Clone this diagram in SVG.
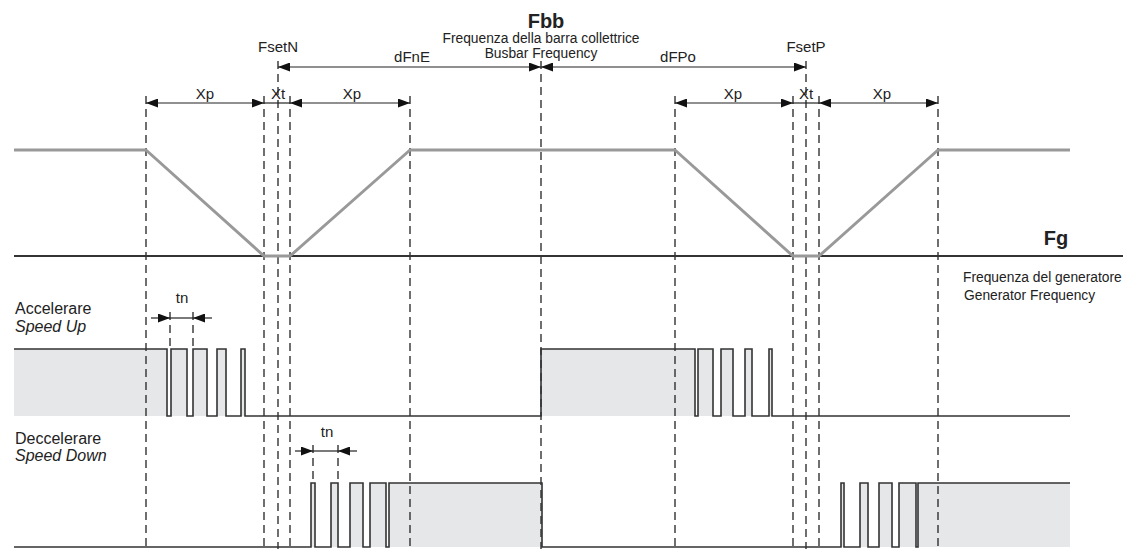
<svg xmlns="http://www.w3.org/2000/svg" width="1123" height="549" viewBox="0 0 1123 549">
<style>
text{font-family:"Liberation Sans",Arial,sans-serif;fill:#222}
.lbl{font-size:15px}
.sig-lbl{font-size:16px}
.sm{font-size:13.8px}
.big{font-size:20px;font-weight:bold}
.it{font-style:italic}
.c{text-anchor:middle}
.dash{stroke:#222;stroke-width:1.3;stroke-dasharray:8,5;fill:none}
.dim{stroke:#222;stroke-width:1.2;fill:none}
.sig{stroke:#333;stroke-width:1.6;fill:none}
.fill{fill:#e6e7e8;stroke:none}
</style>
<defs>
<marker id="ah" viewBox="0 0 12 9" refX="12" refY="4.5" markerWidth="12" markerHeight="9" markerUnits="userSpaceOnUse" orient="auto-start-reverse">
<path d="M0,0 L12,4.5 L0,9 Z" fill="#111"/>
</marker>
</defs>
<rect width="1123" height="549" fill="#fff"/>

<g id="signal-fills">
<path class="fill" d="M14,416 V349 H167 V416 H171 V349 H187 V416 H193 V349 H207 V416 H217 V349 H226 V416 H241 V349 H245 V416 H541 V349 H695 V416 H698 V349 H713 V416 H721 V349 H733 V416 H745 V349 H752 V416 H769 V349 H772 V416 Z"/>
<path class="fill" d="M311,547 V483 H315 V547 H331 V483 H338 V547 H350 V483 H363 V547 H370 V483 H386 V547 H389 V483 H542 V547 H841 V483 H844 V547 H860 V483 H868 V547 H879 V483 H892 V547 H899 V483 H916 V547 H918 V483 H1070 V547 Z"/>
</g>

<g id="guides">
<line class="dash" x1="146" y1="96" x2="146" y2="549"/>
<line class="dash" x1="264" y1="96" x2="264" y2="549"/>
<line class="dash" x1="278" y1="61" x2="278" y2="549"/>
<line class="dash" x1="290" y1="96" x2="290" y2="549"/>
<line class="dash" x1="410" y1="96" x2="410" y2="549"/>
<line class="dash" x1="541" y1="61" x2="541" y2="549"/>
<line class="dash" x1="675" y1="96" x2="675" y2="549"/>
<line class="dash" x1="793" y1="96" x2="793" y2="549"/>
<line class="dash" x1="806" y1="61" x2="806" y2="549"/>
<line class="dash" x1="819" y1="96" x2="819" y2="549"/>
<line class="dash" x1="938" y1="96" x2="938" y2="549"/>
<line class="dash" x1="170" y1="312" x2="170" y2="348"/>
<line class="dash" x1="193" y1="312" x2="193" y2="348"/>
<line class="dash" x1="313" y1="445" x2="313" y2="482"/>
<line class="dash" x1="338" y1="445" x2="338" y2="482"/>
</g>

<g id="frequency-curve">
<line x1="14" y1="256" x2="1123" y2="256" stroke="#333" stroke-width="2"/>
<polyline points="14,150 146,150 264,256 290,256 410,150 675,150 793,256 819,256 938,150 1070,150" fill="none" stroke="#999" stroke-width="3" stroke-linejoin="round"/>
</g>

<g id="connectors">
<line class="dim" x1="278" y1="67" x2="541" y2="67" marker-start="url(#ah)" marker-end="url(#ah)"/>
<line class="dim" x1="541" y1="67" x2="806" y2="67" marker-start="url(#ah)" marker-end="url(#ah)"/>
<line class="dim" x1="146" y1="103" x2="264" y2="103" marker-start="url(#ah)" marker-end="url(#ah)"/>
<line class="dim" x1="264" y1="103" x2="290" y2="103"/>
<line class="dim" x1="290" y1="103" x2="410" y2="103" marker-start="url(#ah)" marker-end="url(#ah)"/>
<line class="dim" x1="675" y1="103" x2="793" y2="103" marker-start="url(#ah)" marker-end="url(#ah)"/>
<line class="dim" x1="793" y1="103" x2="819" y2="103"/>
<line class="dim" x1="819" y1="103" x2="938" y2="103" marker-start="url(#ah)" marker-end="url(#ah)"/>
<line class="dim" x1="151" y1="318" x2="170" y2="318" marker-end="url(#ah)"/>
<line class="dim" x1="170" y1="318" x2="193" y2="318"/>
<line class="dim" x1="212" y1="318" x2="193" y2="318" marker-end="url(#ah)"/>
<line class="dim" x1="295" y1="451" x2="313" y2="451" marker-end="url(#ah)"/>
<line class="dim" x1="313" y1="451" x2="338" y2="451"/>
<line class="dim" x1="357" y1="451" x2="338" y2="451" marker-end="url(#ah)"/>
</g>

<g id="signals">
<path class="sig" d="M14,349 H167 V416 H171 V349 H187 V416 H193 V349 H207 V416 H217 V349 H226 V416 H241 V349 H245 V416 H541 V349 H695 V416 H698 V349 H713 V416 H721 V349 H733 V416 H745 V349 H752 V416 H769 V349 H772 V416 H1070"/>
<path class="sig" d="M14,547 H311 V483 H315 V547 H331 V483 H338 V547 H350 V483 H363 V547 H370 V483 H386 V547 H389 V483 H542 V547 H841 V483 H844 V547 H860 V483 H868 V547 H879 V483 H892 V547 H899 V483 H916 V547 H918 V483 H1070"/>
</g>

<g id="fbb-label">
<text class="big c" x="546" y="28">Fbb</text>
<text class="sm c" x="541" y="43">Frequenza della barra collettrice</text>
<text class="sm c" x="541" y="58">Busbar Frequency</text>
</g>
<g id="fsetn-label"><text class="lbl c" x="278" y="52">FsetN</text></g>
<g id="fsetp-label"><text class="lbl c" x="806" y="52">FsetP</text></g>
<g id="dfne-label"><text class="lbl c" x="412" y="62">dFnE</text></g>
<g id="dfpo-label"><text class="lbl c" x="678" y="62">dFPo</text></g>
<g id="x-labels">
<text class="lbl c" x="205" y="99">Xp</text>
<text class="lbl c" x="278" y="99">Xt</text>
<text class="lbl c" x="352" y="99">Xp</text>
<text class="lbl c" x="733" y="99">Xp</text>
<text class="lbl c" x="806" y="99">Xt</text>
<text class="lbl c" x="882" y="99">Xp</text>
</g>
<g id="fg-label">
<text class="big c" x="1056" y="245">Fg</text>
<text class="sm" x="963" y="282">Frequenza del generatore</text>
<text class="sm" x="964" y="300">Generator Frequency</text>
</g>
<g id="accel-label">
<text class="sig-lbl" x="15" y="314">Accelerare</text>
<text class="sig-lbl it" x="15" y="332">Speed Up</text>
<text class="lbl c" x="182" y="303">tn</text>
</g>
<g id="decel-label">
<text class="sig-lbl" x="15" y="444">Deccelerare</text>
<text class="sig-lbl it" x="15" y="461">Speed Down</text>
<text class="lbl c" x="327" y="437">tn</text>
</g>
</svg>
